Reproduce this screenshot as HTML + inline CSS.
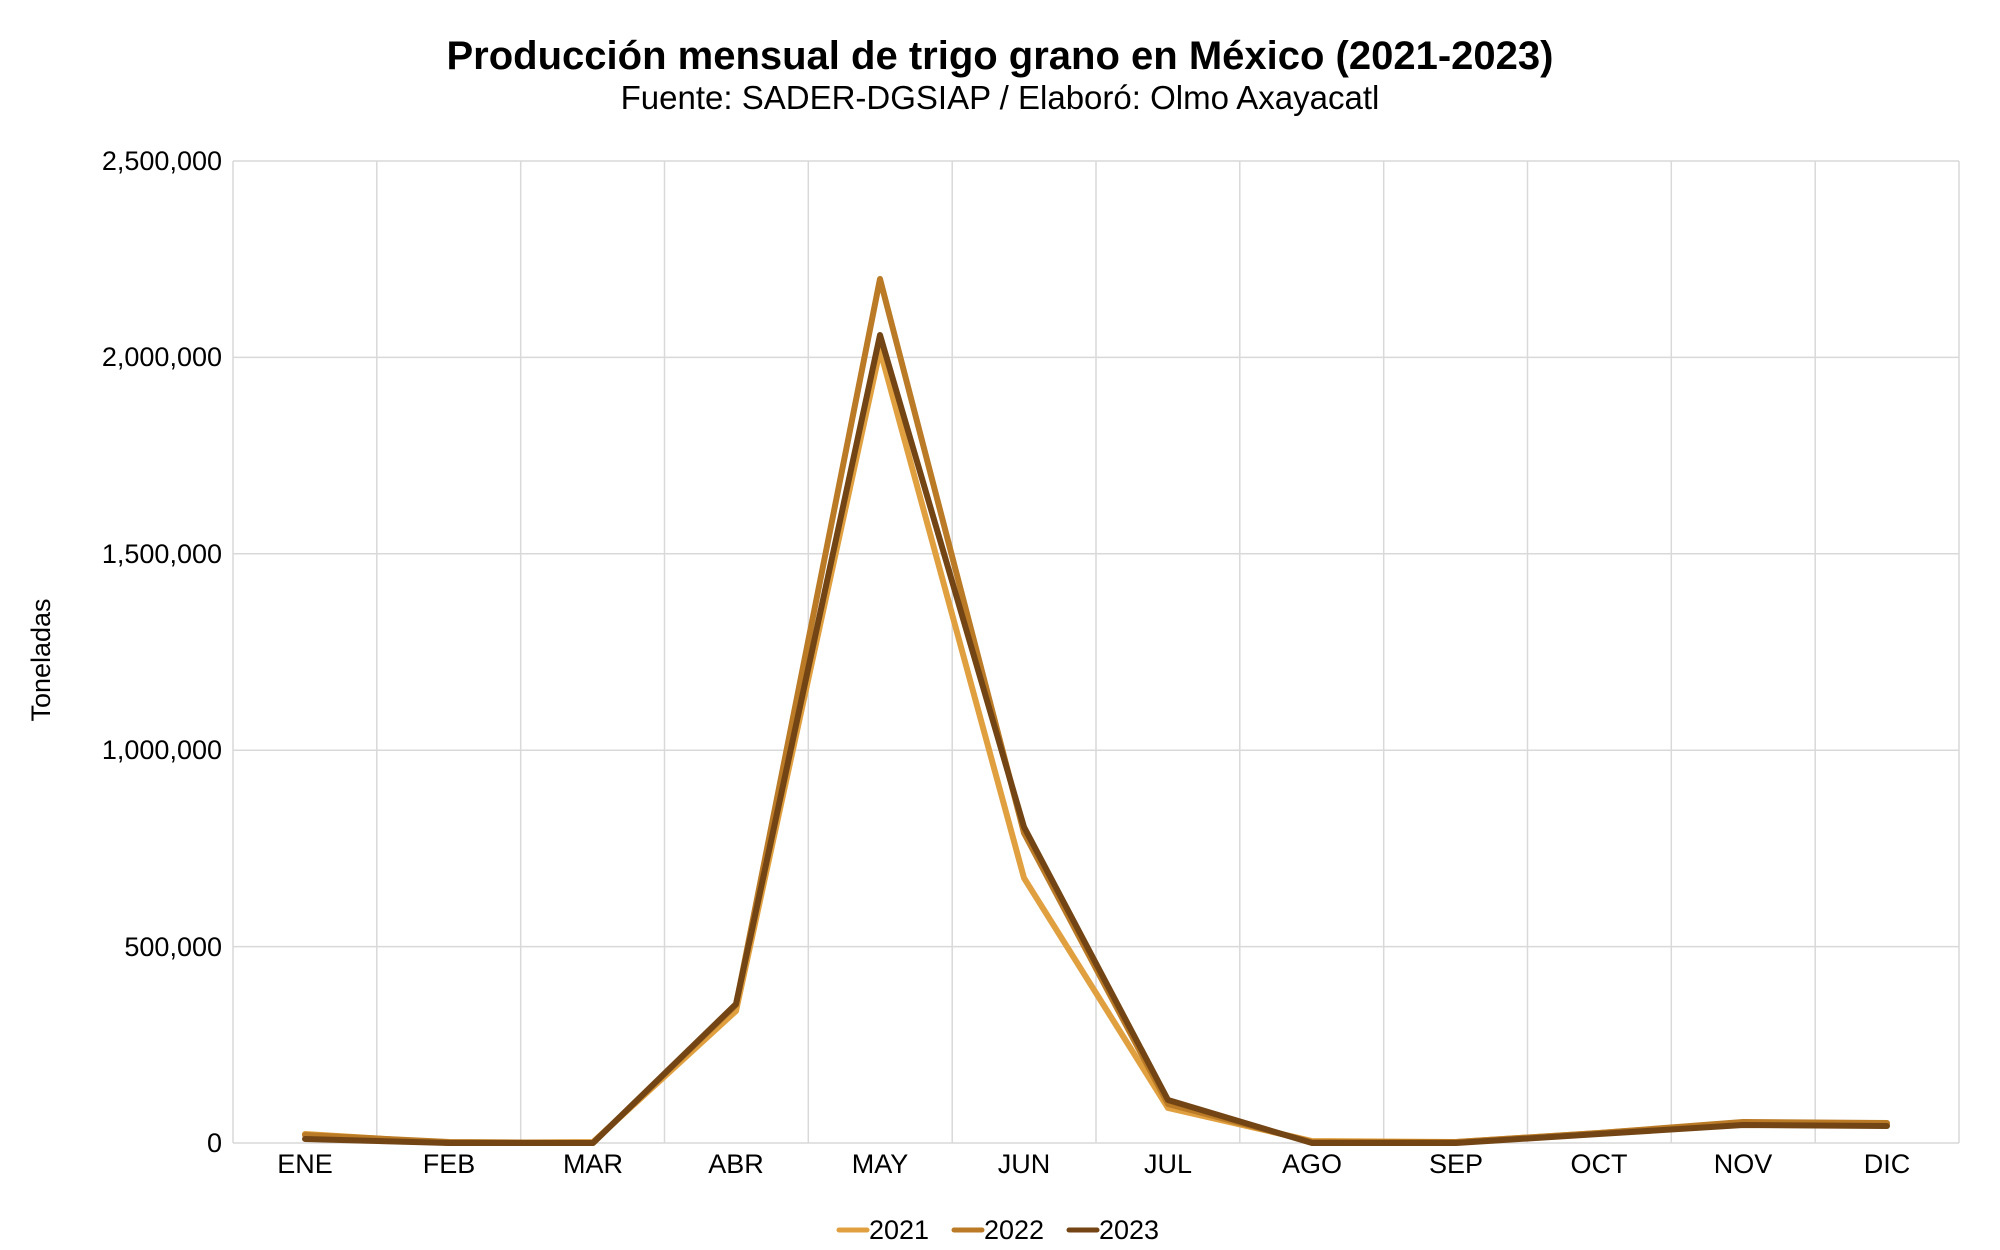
<!DOCTYPE html>
<html><head><meta charset="utf-8"><style>
html,body{margin:0;padding:0;background:#fff}
svg{display:block}
text{font-family:"Liberation Sans",Arial,sans-serif;fill:#000}
</style></head><body>
<svg width="2000" height="1250" viewBox="0 0 2000 1250" xmlns="http://www.w3.org/2000/svg">
<text x="1000" y="69" text-anchor="middle" font-size="40" font-weight="bold">Producción mensual de trigo grano en México (2021-2023)</text>
<text x="1000" y="109" text-anchor="middle" font-size="33">Fuente: SADER-DGSIAP / Elaboró: Olmo Axayacatl</text>
<g stroke="#d9d9d9" stroke-width="1.5">
<line x1="233" y1="161" x2="1959" y2="161"/>
<line x1="233" y1="357.4" x2="1959" y2="357.4"/>
<line x1="233" y1="553.8" x2="1959" y2="553.8"/>
<line x1="233" y1="750.2" x2="1959" y2="750.2"/>
<line x1="233" y1="946.6" x2="1959" y2="946.6"/>
<line x1="233" y1="1143" x2="1959" y2="1143"/>
<line x1="233" y1="161" x2="233" y2="1143"/>
<line x1="376.8" y1="161" x2="376.8" y2="1143"/>
<line x1="520.7" y1="161" x2="520.7" y2="1143"/>
<line x1="664.5" y1="161" x2="664.5" y2="1143"/>
<line x1="808.3" y1="161" x2="808.3" y2="1143"/>
<line x1="952.2" y1="161" x2="952.2" y2="1143"/>
<line x1="1096" y1="161" x2="1096" y2="1143"/>
<line x1="1239.8" y1="161" x2="1239.8" y2="1143"/>
<line x1="1383.7" y1="161" x2="1383.7" y2="1143"/>
<line x1="1527.5" y1="161" x2="1527.5" y2="1143"/>
<line x1="1671.3" y1="161" x2="1671.3" y2="1143"/>
<line x1="1815.2" y1="161" x2="1815.2" y2="1143"/>
<line x1="1959" y1="161" x2="1959" y2="1143"/>
</g>
<g font-size="27" text-anchor="end">
<text x="222" y="170">2,500,000</text>
<text x="222" y="366">2,000,000</text>
<text x="222" y="563">1,500,000</text>
<text x="222" y="759">1,000,000</text>
<text x="222" y="956">500,000</text>
<text x="222" y="1152">0</text>
</g>
<g font-size="27" text-anchor="middle">
<text x="305" y="1173">ENE</text><text x="449" y="1173">FEB</text><text x="593" y="1173">MAR</text>
<text x="736" y="1173">ABR</text><text x="880" y="1173">MAY</text><text x="1024" y="1173">JUN</text>
<text x="1168" y="1173">JUL</text><text x="1312" y="1173">AGO</text><text x="1456" y="1173">SEP</text>
<text x="1599" y="1173">OCT</text><text x="1743" y="1173">NOV</text><text x="1887" y="1173">DIC</text>
</g>
<text transform="translate(50,660) rotate(-90)" text-anchor="middle" font-size="27">Toneladas</text>
<g fill="none" stroke-width="6" stroke-linejoin="round" stroke-linecap="round">
<polyline stroke="#E0A040" points="305,1134 449,1143 593,1142 736,1011 880,350 1024,878 1168,1108 1312,1141 1456,1142 1599,1133 1743,1123 1887,1124"/>
<polyline stroke="#BA7A26" points="305,1135 449,1142 593,1143 736,1005 880,279 1024,833 1168,1104 1312,1142 1456,1142 1599,1133 1743,1122 1887,1123"/>
<polyline stroke="#744514" points="305,1139 449,1143 593,1143 736,1004 880,335 1024,827 1168,1100 1312,1143 1456,1143 1599,1134 1743,1125 1887,1126"/>
</g>
<g stroke-width="5" stroke-linecap="round">
<line x1="839" y1="1230" x2="867" y2="1230" stroke="#E0A040"/>
<line x1="954" y1="1230" x2="982" y2="1230" stroke="#BA7A26"/>
<line x1="1069" y1="1230" x2="1097" y2="1230" stroke="#744514"/>
</g>
<g font-size="27">
<text x="869" y="1239">2021</text><text x="984" y="1239">2022</text><text x="1099" y="1239">2023</text>
</g>
</svg>
</body></html>
